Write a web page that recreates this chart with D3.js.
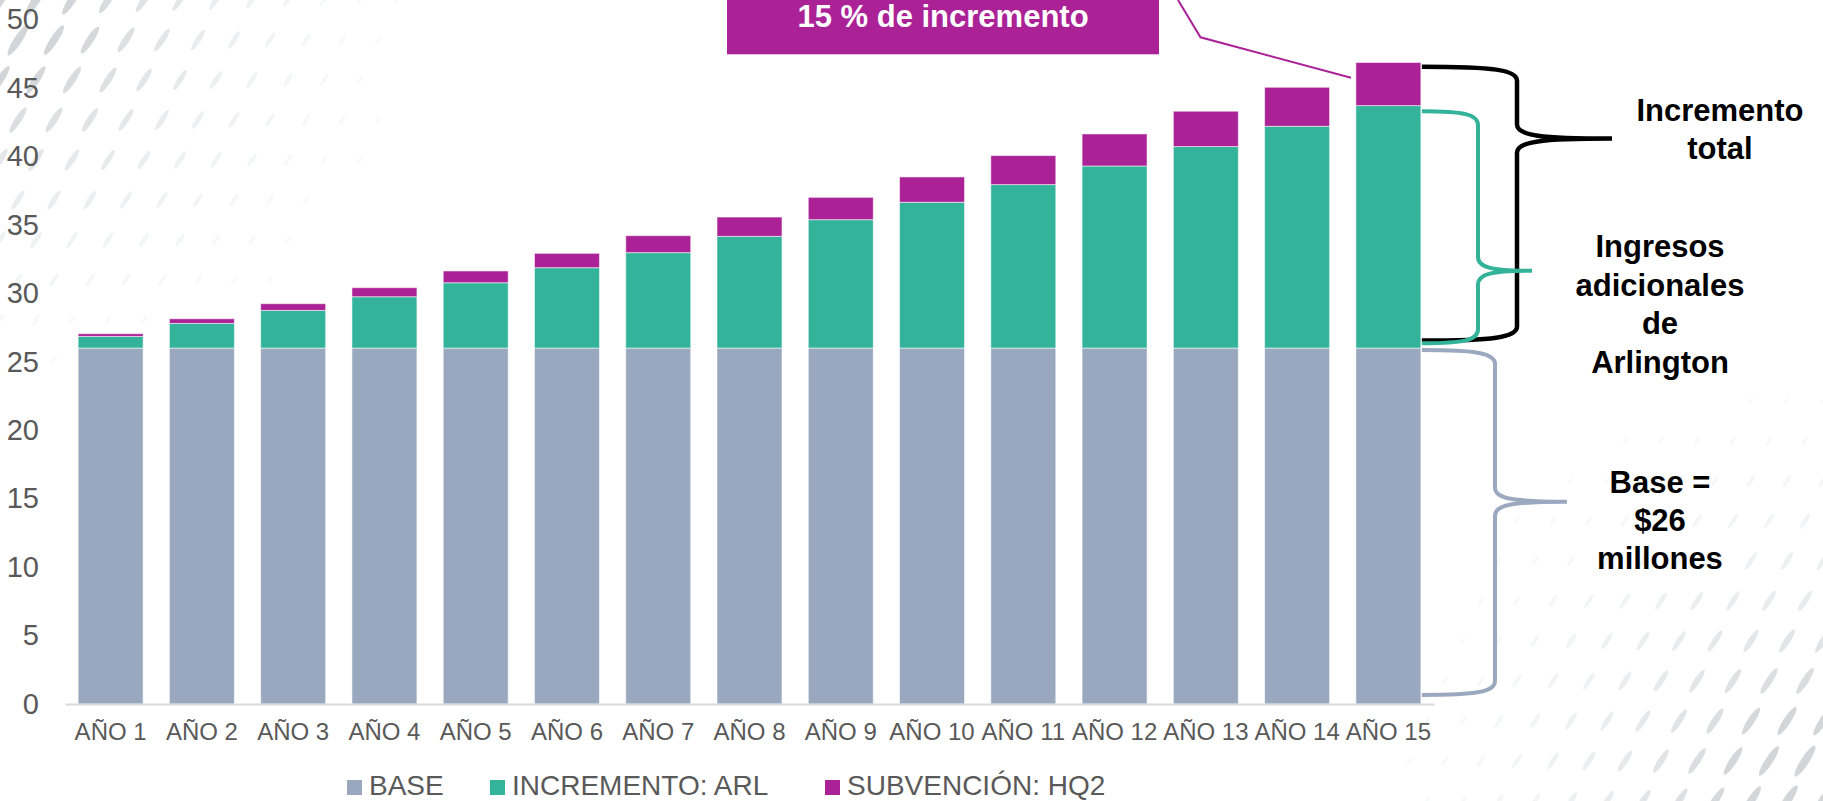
<!DOCTYPE html>
<html>
<head>
<meta charset="utf-8">
<script src="https://cdn.jsdelivr.net/npm/d3@7"></script>
<style>
  html, body { margin: 0; padding: 0; background: #ffffff; }
  svg { display: block; font-family: "Liberation Sans", Arial, sans-serif; }
</style>
</head>
<body>
<svg id="chart" width="1823" height="801"></svg>
<script>
// ---------- data ----------
const years = ["AÑO 1","AÑO 2","AÑO 3","AÑO 4","AÑO 5","AÑO 6","AÑO 7","AÑO 8","AÑO 9","AÑO 10","AÑO 11","AÑO 12","AÑO 13","AÑO 14","AÑO 15"];
const baseValues = [26,26,26,26,26,26,26,26,26,26,26,26,26,26,26];
const arlValues  = [0.85,1.8,2.75,3.75,4.77,5.87,6.97,8.16,9.38,10.65,11.94,13.3,14.72,16.2,17.71];
const hq2Values  = [0.2,0.34,0.49,0.66,0.86,1.05,1.24,1.41,1.63,1.85,2.12,2.34,2.58,2.85,3.15];
const yTicks = [0,5,10,15,20,25,30,35,40,45,50];
const seriesKeys = ["base","arl","hq2"];
const seriesLabels = ["BASE","INCREMENTO: ARL","SUBVENCIÓN: HQ2"];
const seriesColors = ["#99A8BE","#32B39A","#AB2297"];
const calloutText = "15 % de incremento";

// ---------- setup ----------
const svg = d3.select("#chart");
const W = 1823, H = 801;

// decorative hatch background
const deco = svg.append("g");
function hatch(cx, cy, maxR) {
  for (let row = 0; row < 30; row++) {
    for (let col = 0; col < 30; col++) {
      const px = col * 36 + (row % 2) * 18;
      const py = row * 40;
      const x = cx === 0 ? px : cx - px;
      const y = cy === 0 ? py : cy - py;
      const d = Math.hypot(px, py * 1.05) / maxR;
      if (d >= 1) continue;
      const k = 1 - d;
      deco.append("ellipse")
        .attr("cx", x).attr("cy", y)
        .attr("rx", 4 + 16 * k).attr("ry", 1.2 + 3.2 * k)
        .attr("transform", `rotate(-57 ${x} ${y})`)
        .attr("fill", "#d3d6d9")
        .attr("opacity", Math.min(1, 1.4 * k * k + 0.15));
    }
  }
}
hatch(0, 0, 400);
hatch(W, H, 430);

// scales
const x = d3.scaleBand().domain(years).range([65, 1434]).paddingInner(0.288).paddingOuter(0.144);
const y = d3.scaleLinear().domain([0, 50]).range([704, 19.5]);

const table = years.map((yr, i) => ({year: yr, base: baseValues[i], arl: arlValues[i], hq2: hq2Values[i]}));
const stacked = d3.stack().keys(seriesKeys)(table);

// bars
svg.append("g").selectAll("g").data(stacked).join("g")
  .attr("fill", (d, i) => seriesColors[i])
  .selectAll("rect").data(d => d).join("rect")
  .attr("x", d => x(d.data.year))
  .attr("width", x.bandwidth())
  .attr("y", d => y(d[1]))
  .attr("height", d => y(d[0]) - y(d[1]))
  .attr("stroke", "rgba(255,255,255,0.55)")
  .attr("stroke-width", 1);

// y axis
const yAxis = svg.append("g").attr("transform", "translate(39,0)")
  .call(d3.axisLeft(y).tickValues(yTicks).tickSize(0).tickPadding(0));
yAxis.select(".domain").remove();
yAxis.selectAll("text").attr("font-size", 29).attr("fill", "#595959")
  .attr("font-family", "Liberation Sans, Arial, sans-serif");

// x axis
const xAxis = svg.append("g").attr("transform", "translate(0,704)")
  .call(d3.axisBottom(x).tickSize(0).tickPadding(19));
xAxis.select(".domain").attr("stroke", "#d9d9d9").attr("stroke-width", 2);
xAxis.selectAll("text").attr("font-size", 24).attr("fill", "#595959")
  .attr("font-family", "Liberation Sans, Arial, sans-serif");

// legend
const legendX = [347, 490, 825];
const lg = svg.append("g");
seriesLabels.forEach((lab, i) => {
  lg.append("rect").attr("x", legendX[i]).attr("y", 780).attr("width", 15).attr("height", 15)
    .attr("fill", seriesColors[i]);
  lg.append("text").attr("x", legendX[i] + 22).attr("y", 795)
    .attr("font-size", 28).attr("fill", "#595959").text(lab);
});

// callout box
svg.append("rect").attr("x", 727).attr("y", -10).attr("width", 432).attr("height", 64.3)
  .attr("fill", "#AB2297");
svg.append("text").attr("x", 943).attr("y", 27).attr("text-anchor", "middle")
  .attr("font-size", 31).attr("font-weight", "bold").attr("fill", "#ffffff").text(calloutText);
svg.append("polyline")
  .attr("points", `1178,0 1200.5,37.3 1351,77.7`)
  .attr("fill", "none").attr("stroke", "#AB2297").attr("stroke-width", 2);

// braces
function bracePath(x0, xv, xt, yTop, yTip, yBot) {
  const r = 14;
  return `M${x0},${yTop} C${x0 + (xv - x0) * 0.75},${yTop} ${xv},${yTop + 3} ${xv},${yTop + r}` +
    ` L${xv},${yTip - r} C${xv},${yTip - 3} ${xv + (xt - xv) * 0.25},${yTip} ${xt},${yTip}` +
    ` M${xt},${yTip} C${xv + (xt - xv) * 0.25},${yTip} ${xv},${yTip + 3} ${xv},${yTip + r}` +
    ` L${xv},${yBot - r} C${xv},${yBot - 3} ${x0 + (xv - x0) * 0.75},${yBot} ${x0},${yBot}`;
}
const bx0 = x("AÑO 15") + x.bandwidth() + 1;
svg.append("path").attr("d", bracePath(bx0, 1517, 1612, y(46.55), y(41.3), y(26.55)))
  .attr("fill", "none").attr("stroke", "#000000").attr("stroke-width", 4.5);
svg.append("path").attr("d", bracePath(bx0, 1478, 1532, y(43.3), y(31.65), y(26.35)))
  .attr("fill", "none").attr("stroke", "#32B39A").attr("stroke-width", 4);
svg.append("path").attr("d", bracePath(bx0, 1495, 1567, y(25.85), y(14.78), y(0.66)))
  .attr("fill", "none").attr("stroke", "#9BA9C0").attr("stroke-width", 4);

// brace labels
function label(lines, cx, y0, lh) {
  const t = svg.append("text").attr("text-anchor", "middle").attr("font-size", 31)
    .attr("font-weight", "bold").attr("fill", "#000000");
  lines.forEach((ln, i) => t.append("tspan").attr("x", cx).attr("y", y0 + i * lh).text(ln));
}
label(["Incremento", "total"], 1720, 120.7, 38.6);
label(["Ingresos", "adicionales", "de", "Arlington"], 1660, 257, 38.5);
label(["Base =", "$26", "millones"], 1660, 492.7, 38.3);
</script>
</body>
</html>
